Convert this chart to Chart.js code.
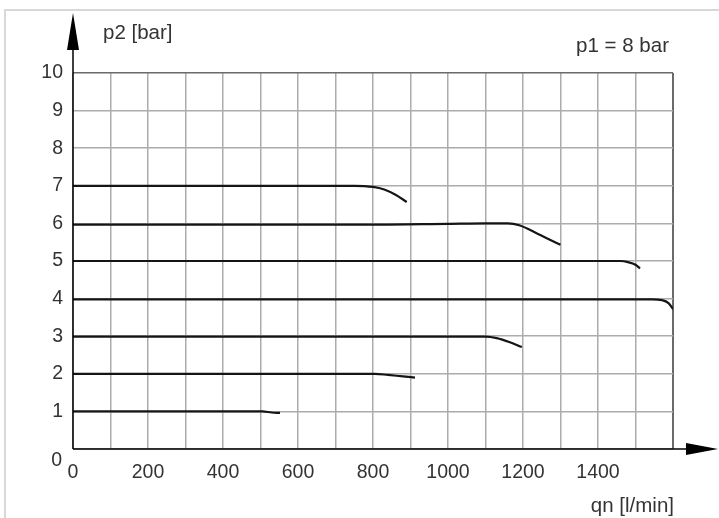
<!DOCTYPE html>
<html>
<head>
<meta charset="utf-8">
<script src="https://cdn.jsdelivr.net/npm/chart.js@4"></script>
<style>
  html, body { margin: 0; padding: 0; background: #fff; }
  #wrap { width: 719px; height: 518px; position: relative; }
</style>
</head>
<body>
<div id="wrap"><canvas id="flowChart" width="719" height="518"></canvas></div>
<script>
// flow curves, p1 = 8 bar, one curve per set pressure p2
const qn7 = [0, 750, 800, 830, 860, 890];
const p7  = [7.0, 7.0, 6.97, 6.9, 6.76, 6.57];

const qn6 = [0, 800, 1000, 1100, 1160, 1190, 1240, 1300];
const p6  = [5.97, 5.97, 5.99, 6.0, 6.0, 5.95, 5.72, 5.43];

const qn5 = [0, 1460, 1480, 1500, 1512];
const p5  = [5.0, 5.0, 4.97, 4.9, 4.8];

const qn4 = [0, 1545, 1570, 1588, 1600];
const p4  = [3.98, 3.98, 3.96, 3.88, 3.72];

const qn3 = [0, 1100, 1130, 1165, 1197];
const p3  = [2.99, 2.99, 2.95, 2.84, 2.71];

const qn2 = [0, 805, 840, 880, 912];
const p2  = [2.0, 2.0, 1.97, 1.93, 1.9];

const qn1 = [0, 505, 530, 552];
const p1  = [1.0, 1.0, 0.97, 0.96];

const xTickLabels = [0, 200, 400, 600, 800, 1000, 1200, 1400];
const yTickLabels = [1, 2, 3, 4, 5, 6, 7, 8, 9, 10];

function toPoints(xs, ys) {
    return xs.map((x, i) => ({ x: x, y: ys[i] }));
}

const curves = [[qn7, p7], [qn6, p6], [qn5, p5], [qn4, p4], [qn3, p3], [qn2, p2], [qn1, p1]];

const data = {
    datasets: curves.map(c => ({
        data: toPoints(c[0], c[1]),
        borderColor: '#151515',
        borderWidth: 2.2,
        pointRadius: 0,
        cubicInterpolationMode: 'monotone',
        fill: false
    }))
};

const FONT = '"Liberation Sans", Arial, sans-serif';
const TXT = '#333';

const decor = {
    id: 'decor',
    beforeDraw(chart) {
        const c = chart.ctx;
        c.save();
        c.fillStyle = '#fff';
        c.fillRect(0, 0, chart.width, chart.height);
        // frame of the picture
        c.strokeStyle = '#d8d8d8';
        c.lineWidth = 2;
        c.beginPath();
        c.moveTo(5, 518);
        c.lineTo(5, 10);
        c.lineTo(719, 10);
        c.stroke();
        c.restore();
    },
    afterDraw(chart) {
        const c = chart.ctx;
        const xs = chart.scales.x, ys = chart.scales.y;
        const x0 = xs.getPixelForValue(0);
        const y0 = ys.getPixelForValue(0);
        c.save();
        c.strokeStyle = '#000';
        c.fillStyle = '#000';
        c.lineWidth = 1.5;
        // axes with arrows
        c.beginPath();
        c.moveTo(x0, y0);
        c.lineTo(700, y0);
        c.moveTo(x0, y0);
        c.lineTo(x0, 30);
        c.stroke();
        c.beginPath();
        c.moveTo(718, y0);
        c.lineTo(686, y0 - 6);
        c.lineTo(686, y0 + 6);
        c.closePath();
        c.fill();
        c.beginPath();
        c.moveTo(x0, 13);
        c.lineTo(x0 - 6, 50);
        c.lineTo(x0 + 6, 50);
        c.closePath();
        c.fill();
        // texts
        c.fillStyle = TXT;
        c.font = '20.5px ' + FONT;
        c.textBaseline = 'middle';
        c.textAlign = 'left';
        c.fillText('p2 [bar]', 103, 33);
        c.textAlign = 'right';
        c.fillText('p1 = 8 bar', 669, 46);
        c.fillText('qn [l/min]', 674, 506);
        c.font = '19.5px ' + FONT;
        c.fillText('0', 62, 461);
        c.restore();
    }
};

const config = {
    type: 'line',
    data: data,
    options: {
        responsive: false,
        animation: false,
        layout: { padding: { left: 0, top: 73, right: 46, bottom: 0 } },
        plugins: {
            legend: { display: false },
            tooltip: { enabled: false }
        },
        scales: {
            x: {
                type: 'linear',
                min: 0,
                max: 1600,
                afterFit: s => { s.height = 69; },
                ticks: {
                    stepSize: 100,
                    autoSkip: false,
                    maxRotation: 0,
                    padding: 12,
                    color: TXT,
                    font: { family: FONT, size: 19.5 },
                    callback: v => xTickLabels.includes(v) ? String(v) : ''
                },
                grid: {
                    drawTicks: false,
                    color: ctx => (ctx.tick && ctx.tick.value === 1600) ? '#6a6a6a' : '#acacac',
                    lineWidth: ctx => (ctx.tick && ctx.tick.value === 1600) ? 2 : 1.5
                },
                border: { display: false }
            },
            y: {
                min: 0,
                max: 10,
                afterFit: s => { s.width = 73; },
                ticks: {
                    stepSize: 1,
                    padding: 10,
                    color: TXT,
                    font: { family: FONT, size: 19.5 },
                    callback: v => yTickLabels.includes(v) ? String(v) : ''
                },
                grid: {
                    drawTicks: false,
                    color: ctx => (ctx.tick && ctx.tick.value === 10) ? '#6a6a6a' : '#acacac',
                    lineWidth: 1.5
                },
                border: { display: false }
            }
        }
    },
    plugins: [decor]
};

window.onload = function() {
    const ctx = document.getElementById('flowChart').getContext('2d');
    new Chart(ctx, config);
};
</script>
</body>
</html>
